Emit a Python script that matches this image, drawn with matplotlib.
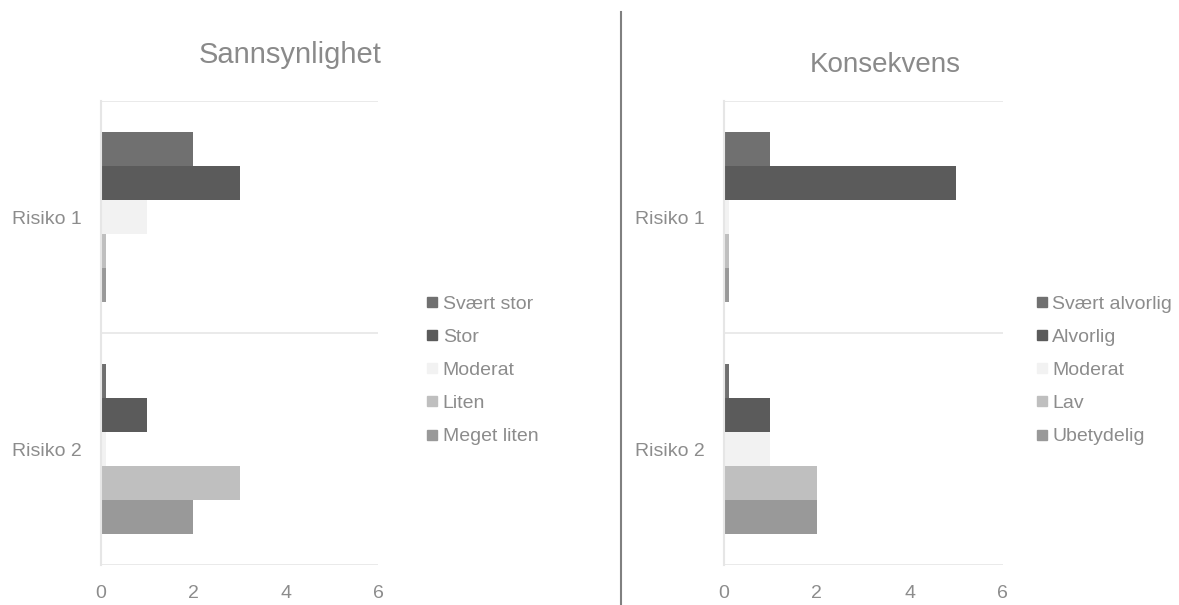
import numpy as np
import matplotlib.pyplot as plt
from matplotlib.lines import Line2D

plt.rcParams['font.family'] = ['Liberation Sans', 'DejaVu Sans']

risks = ['Risiko 1', 'Risiko 2']

# Sannsynlighet
prob_levels = ['Svært stor', 'Stor', 'Moderat', 'Liten', 'Meget liten']
prob_values = [
    [2, 0.1],    # Svært stor
    [3, 1],      # Stor
    [1, 0.1],    # Moderat
    [0.1, 3],    # Liten
    [0.1, 2],    # Meget liten
]

# Konsekvens
cons_levels = ['Svært alvorlig', 'Alvorlig', 'Moderat', 'Lav', 'Ubetydelig']
cons_values = [
    [1, 0.1],    # Svært alvorlig
    [5, 1],      # Alvorlig
    [0.1, 1],    # Moderat
    [0.1, 2],    # Lav
    [0.1, 2],    # Ubetydelig
]

colors = ['#707070', '#5b5b5b', '#f2f2f2', '#bfbfbf', '#999999']
text_gray = '#8c8c8c'
grid_gray = '#e6e6e6'

fig = plt.figure(figsize=(11.79, 6.05), dpi=100)


def draw_panel(rect, title, title_x, title_y, title_size, levels, values, legend_x):
    ax = fig.add_axes(rect)
    n = len(levels)
    bar_h = 0.147
    y = np.arange(len(risks))
    for i, (lvl, vals) in enumerate(zip(levels, values)):
        offs = (i - (n - 1) / 2) * bar_h
        ax.barh(y + offs, vals, height=bar_h, color=colors[i], edgecolor='none')
    ax.set_ylim(1.5, -0.5)
    ax.set_xlim(0, 6)
    ax.set_xticks([0, 2, 4, 6])
    ax.set_yticks(y)
    ax.set_yticklabels(risks)
    ax.tick_params(length=0, labelsize=14, colors=text_gray)
    ax.tick_params(axis='x', pad=14)
    ax.tick_params(axis='y', pad=14)
    for s in ['top', 'right', 'bottom']:
        ax.spines[s].set_visible(False)
    ax.spines['left'].set_color(grid_gray)
    ax.spines['left'].set_linewidth(1.5)
    for b in [-0.5, 0.5, 1.5]:
        ax.axhline(b, color=grid_gray, lw=1.2, zorder=0)
    fig.text(title_x, title_y, title, ha='center', va='center',
             fontsize=title_size, color='#8a8a8a')
    handles = [Line2D([], [], marker='s', linestyle='none', color=c,
                      markersize=7) for c in colors]
    leg = ax.legend(handles, levels, loc='center left',
                    bbox_to_anchor=(legend_x, 0.42),
                    frameon=False, fontsize=14, handlelength=0.5,
                    handletextpad=0.3, labelspacing=0.8,
                    borderaxespad=0, borderpad=0)
    for t in leg.get_texts():
        t.set_color(text_gray)
    return ax


draw_panel([0.0857, 0.066, 0.235, 0.767], 'Sannsynlighet', 0.246, 0.909, 21,
           prob_levels, prob_values, 1.177)
draw_panel([0.614, 0.066, 0.2366, 0.767], 'Konsekvens', 0.751, 0.893, 20,
           cons_levels, cons_values, 1.122)

# divider between the two charts
fig.add_artist(Line2D([621 / 1179, 621 / 1179], [0, 1 - 12 / 605],
                      color='#808080', lw=1.5, transform=fig.transFigure))

fig.savefig('out.png', dpi=100)
